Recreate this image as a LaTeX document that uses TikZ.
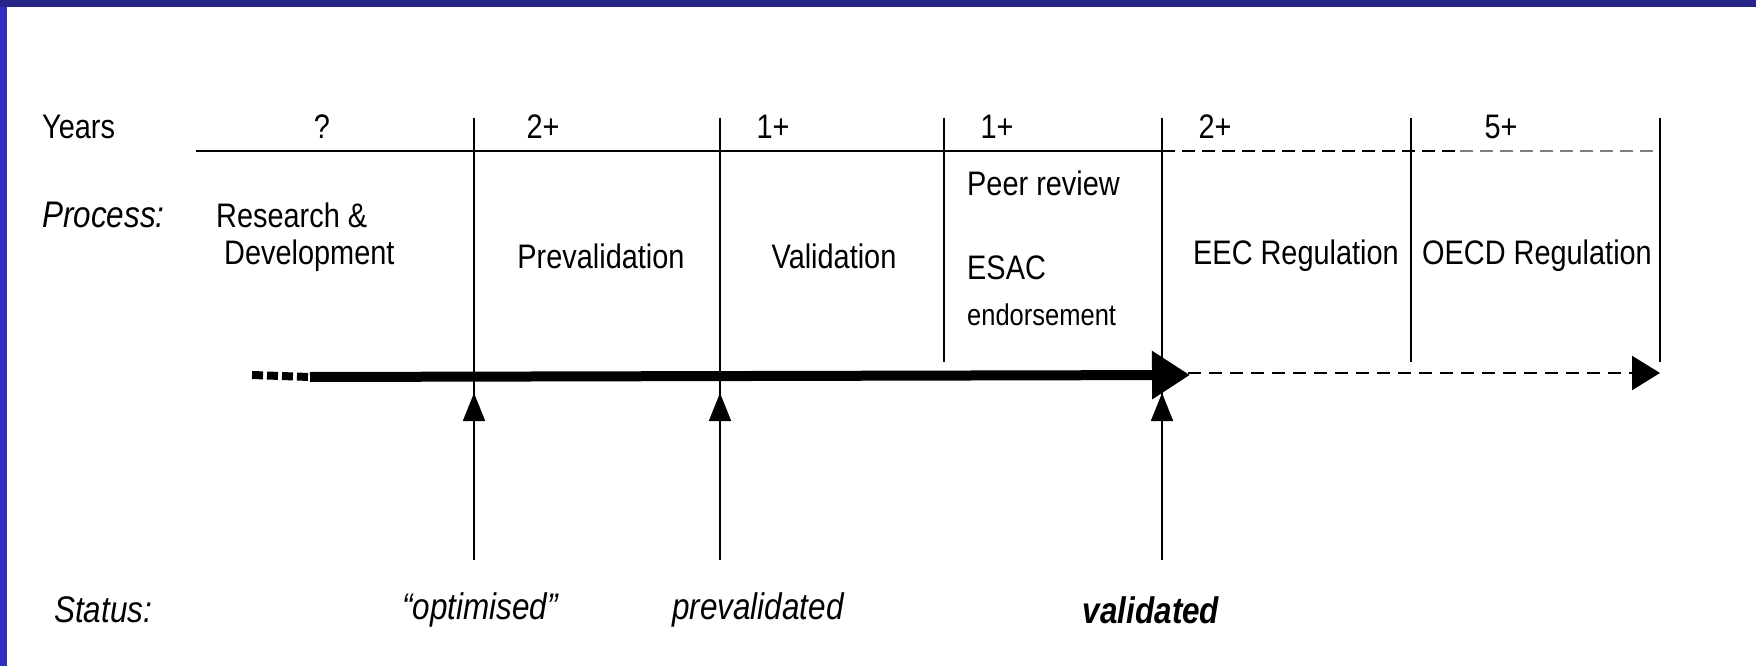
\documentclass[tikz,border=0pt]{standalone}
\usepackage{fontspec}
\setmainfont{Liberation Sans}[FakeStretch=0.85]
\usetikzlibrary{arrows.meta}
\definecolor{navy}{HTML}{262689}
\definecolor{sideblue}{HTML}{2E2EBF}
\tikzset{
  lbl/.style={inner sep=0pt, font=\fontsize{34}{38}\selectfont},
  big/.style={inner sep=0pt, font=\fontsize{34}{38}\selectfont},
  itl/.style={inner sep=0pt, font=\fontsize{37}{40}\selectfont\itshape},
  sep/.style={line width=1.8pt},
  upar/.style={line width=1.8pt, -{Triangle[length=28pt, width=22pt]}},
}
\begin{document}
\begin{tikzpicture}[x=1pt, y=-1pt]
\useasboundingbox (0,0) rectangle (1756,666);
\fill[white] (0,0) rectangle (1756,666);
\fill[navy] (0,0) rectangle (1756,7);
\fill[sideblue] (0,7) rectangle (7,666);

% year row
\node[lbl, anchor=west] (years) at (42,127) {Years};
\node[lbl] (y1) at (322,127) {?};
\node[lbl] (y2) at (543,127) {2+};
\node[lbl] (y3) at (773,127) {1+};
\node[lbl] (y4) at (997,127) {1+};
\node[lbl] (y5) at (1215,127) {2+};
\node[lbl] (y6) at (1501,127) {5+};

% top rule
\coordinate (t0) at (196,151);
\coordinate (t1) at (1162,151);
\coordinate (t3) at (1460,151);
\coordinate (t4) at (1660,151);
\draw[sep] (t0) -- (t1);
\draw[sep, dash pattern=on 13pt off 7pt] (t1) -- (t3);
\draw[sep, gray, dash pattern=on 13pt off 7pt] (t3) -- (t4);

% vertical separators
\coordinate (v1t) at (474,118);  \coordinate (v1b) at (474,560);
\coordinate (v2t) at (720,118);  \coordinate (v2b) at (720,560);
\coordinate (v3t) at (944,118);  \coordinate (v3b) at (944,362);
\coordinate (v4t) at (1162,118); \coordinate (v4b) at (1162,560);
\coordinate (v5t) at (1411,118); \coordinate (v5b) at (1411,362);
\coordinate (v6t) at (1660,118); \coordinate (v6b) at (1660,362);
\foreach \i in {1,...,6} { \draw[sep] (v\i t) -- (v\i b); }

% process row
\node[itl, anchor=west] (process) at (42,215) {Process:};
\node[big, anchor=west] (rd1) at (216,215) {Research \&};
\node[big, anchor=west] (rd2) at (224,256) {Development};
\node[big] (preval) at (601,256) {Prevalidation};
\node[big] (val) at (834,256) {Validation};
\node[big, anchor=west] (peer) at (967,183) {Peer review};
\node[big, anchor=west] (esac) at (967,268) {ESAC};
\node[inner sep=0pt, anchor=west, font=\fontsize{30}{32}\selectfont] (endo) at (967,315) {endorsement};
\node[big] (eec) at (1296,256) {EEC Regulation};
\node[big] (oecd) at (1537,256) {OECD Regulation};

% main timeline
\coordinate (m0) at (252,375);
\coordinate (m1) at (310,377);
\coordinate (m2) at (1190,375);
\coordinate (d1) at (1188,373);
\coordinate (d2) at (1660,373);
\draw[line width=8pt, dash pattern=on 11pt off 4pt] (m0) -- (m1);
\draw[line width=10pt, -{Triangle[length=38pt, width=46pt]}] (m1) -- (m2);
\draw[line width=2.2pt, dash pattern=on 13pt off 8pt, -{Triangle[length=28pt, width=34pt]}] (d1) -- (d2);

% status arrows
\coordinate (a1) at (474,393);
\coordinate (a2) at (720,393);
\coordinate (a3) at (1162,393);
\draw[upar] (v1b) -- (a1);
\draw[upar] (v2b) -- (a2);
\draw[upar] (v4b) -- (a3);

% status row
\node[itl, anchor=west] (status) at (54,610) {Status:};
\node[itl] (opt) at (480,610) {``optimised''};
\node[itl] (prev) at (758,610) {prevalidated};
\node[inner sep=0pt, font=\fontsize{37}{40}\selectfont\bfseries\itshape] (valid) at (1151,610) {validated};
\end{tikzpicture}
\end{document}
